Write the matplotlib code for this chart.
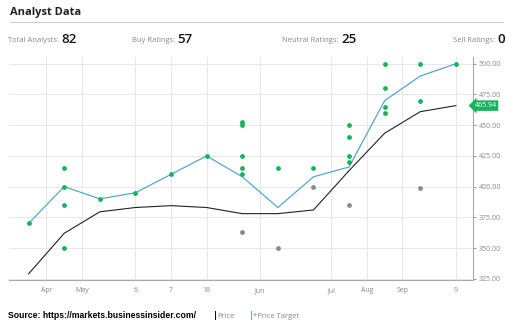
import matplotlib
matplotlib.use('Agg')
import matplotlib.pyplot as plt

# rating counts
total_analysts = 82
buy_ratings = 57
neutral_ratings = 25
sell_ratings = 0

tick_labels = ['Apr', 'May', '6', '7', '18', 'Jun', 'Jul', 'Aug', 'Sep', '9']
tick_pos = [0.5, 1.5, 3, 4, 5, 6.5, 8.5, 9.5, 10.5, 12]

price_target = [370, 400, 390, 395, 410, 425, 408, 383, 408, 416, 470, 490, 500]
price = [329, 362, 379.5, 383, 384.5, 383, 378, 378, 381, 413, 443.5, 461, 465.94]

buy_targets = {
    0: [370], 1: [415, 400, 385, 350], 2: [390], 3: [395], 4: [410],
    5: [425], 6: [453, 450, 425, 415, 410], 7: [415], 8: [415],
    9: [450, 440, 425, 420], 10: [500, 480, 465, 460], 11: [500, 470],
    12: [500],
}
neutral_targets = {6: [363], 7: [350], 8: [400], 9: [385], 11: [399]}

green = '#14b45a'
grey_dot = '#8a8a8a'
blue = '#5aa5d2'
txt_grey = '#888888'

plt.rcParams['font.family'] = ['Open Sans', 'DejaVu Sans']

fig = plt.figure(figsize=(5.12, 3.26), dpi=100)
W, H = 512, 326

def fx(px):
    return px / W

def fy(py):
    return 1 - py / H

# header
fig.text(fx(10), fy(12), 'Analyst Data', fontsize=8, fontweight='bold',
         va='center', ha='left', color='#222222')
fig.add_artist(plt.Line2D([fx(10), fx(503)], [fy(22), fy(22)],
                          color='#cccccc', lw=0.8))

stats = [('Total Analysts:', total_analysts, 61),
         ('Buy Ratings:', buy_ratings, 177),
         ('Neutral Ratings:', neutral_ratings, 341),
         ('Sell Ratings:', sell_ratings, 497)]
for label, val, x in stats:
    fig.text(fx(x), fy(40), label + ' ', fontsize=5.5, color=txt_grey,
             ha='right', va='center')
    fig.text(fx(x), fy(39.5), str(val), fontsize=9.5, color='#111111',
             ha='left', va='center', fontweight='semibold')

ax = fig.add_axes([fx(9), fy(280), fx(473) - fx(9), fy(57) - fy(280)])

xs = list(range(len(price)))
ax.plot(xs, price_target, color=blue, lw=0.9, zorder=3)
ax.plot(xs, price, color='#222222', lw=0.8, zorder=3)

for i, vals in buy_targets.items():
    ax.scatter([i] * len(vals), vals, s=12, color=green, zorder=4, linewidths=0)
for i, vals in neutral_targets.items():
    ax.scatter([i] * len(vals), vals, s=12, color=grey_dot, zorder=4, linewidths=0)

ax.set_xlim(-0.55, 12.48)
ax.set_ylim(324, 505.5)
ax.set_xticks(tick_pos)
ax.set_xticklabels(tick_labels)
ax.set_yticks(range(325, 501, 25))
ax.set_yticklabels(['%.2f' % v for v in range(325, 501, 25)])
ax.yaxis.tick_right()
ax.tick_params(axis='both', labelsize=5, colors=txt_grey, length=2, width=0.6, pad=2)
ax.tick_params(axis='x', length=0, pad=5)
ax.grid(True, color='#e8e8e8', lw=0.7)
ax.set_axisbelow(True)
for s in ['left', 'top']:
    ax.spines[s].set_visible(False)
for s in ['right', 'bottom']:
    ax.spines[s].set_color('#aaaaaa')
    ax.spines[s].set_linewidth(0.8)

# last price label
ax.annotate('%.2f' % price[-1], xy=(1.0, price[-1]), xycoords=('axes fraction', 'data'),
            xytext=(1, 0), textcoords='offset points', fontsize=5, color='white',
            va='center', ha='left', annotation_clip=False,
            bbox=dict(boxstyle='larrow,pad=0.25', fc=green, ec='none'))

# footer
fig.text(fx(8), fy(316), 'Source: https://markets.businessinsider.com/', fontsize=6.2,
         fontweight='bold', family=['Liberation Sans', 'DejaVu Sans'], va='center', ha='left')
fig.text(fx(213), fy(316), '|', fontsize=6.5, fontweight='bold', color='#111111',
         va='center', ha='left')
fig.text(fx(217), fy(316), 'Price', fontsize=5.5, color=txt_grey, va='center', ha='left')
fig.text(fx(249), fy(316), '|', fontsize=6.5, fontweight='bold', color=blue,
         va='center', ha='left')
fig.text(fx(253), fy(316), '*Price Target', fontsize=5.5, color=txt_grey,
         va='center', ha='left')

fig.savefig('out.png', dpi=100)
